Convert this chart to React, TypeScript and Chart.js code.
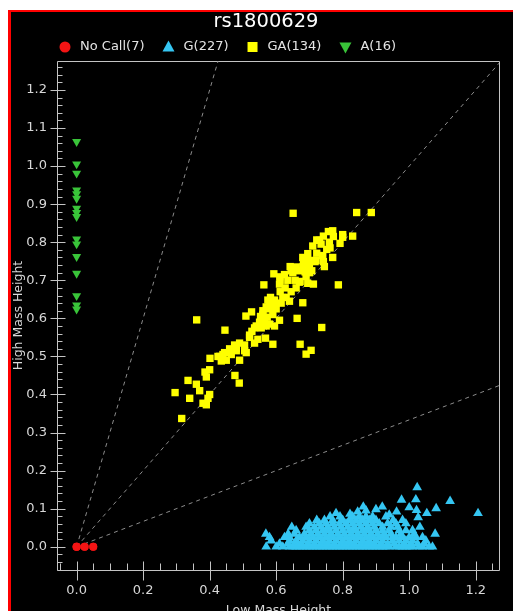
import React, { useEffect, useRef } from 'react';
import { Chart, registerables } from 'chart.js';
Chart.register(...registerables);

const titleText = 'rs1800629';
const xAxisTitle = 'Low Mass Height';
const yAxisTitle = 'High Mass Height';
const seriesNames = ['No Call(7)', 'G(227)', 'GA(134)', 'A(16)'];
const seriesColors = ['#f41414', '#35c6f2', '#ffff00', '#39c439'];

const xRange = [-0.056, 1.27];
const yRange = [-0.061, 1.276];
const xTickValues = [0, 0.2, 0.4, 0.6, 0.8, 1.0, 1.2];
const xTickLabels = ['0.0', '0.2', '0.4', '0.6', '0.8', '1.0', '1.2'];
const yTickValues = [0, 0.1, 0.2, 0.3, 0.4, 0.5, 0.6, 0.7, 0.8, 0.9, 1.0, 1.1, 1.2];
const yTickLabels = ['0.0', '0.1', '0.2', '0.3', '0.4', '0.5', '0.6', '0.7', '0.8', '0.9', '1.0', '1.1', '1.2'];
const xMinorStep = 0.05;
const yMinorStep = 0.02;
const guideSlopes = [3, 1, 1 / 3];

const noCallPoints: [number, number][] = [
  [0, 0], [0, 0], [0, 0], [0.024, 0], [0.024, 0], [0.05, 0], [0.05, 0],
];

const aPoints: [number, number][] = [
  [0, 1.064], [0, 1.005], [0, 0.981], [0, 0.937], [0, 0.927], [0, 0.915],
  [0, 0.889], [0, 0.878], [0, 0.867], [0, 0.808], [0, 0.795], [0, 0.762],
  [0, 0.718], [0, 0.659], [0, 0.635], [0, 0.624],
];

const gPoints: [number, number][] = [
  // y ~ 0.000
  [0.57, 0], [0.6, 0], [0.62, 0], [0.64, 0], [0.65, 0], [0.66, 0], [0.67, 0], [0.68, 0], [0.69, 0], [0.7, 0],
  [0.71, 0], [0.72, 0], [0.73, 0], [0.74, 0], [0.75, 0], [0.76, 0], [0.77, 0], [0.78, 0], [0.79, 0], [0.8, 0],
  [0.81, 0], [0.82, 0], [0.83, 0], [0.84, 0], [0.85, 0], [0.86, 0], [0.87, 0], [0.88, 0], [0.89, 0], [0.9, 0],
  [0.91, 0], [0.92, 0], [0.93, 0], [0.94, 0], [0.96, 0], [0.97, 0], [0.98, 0], [0.99, 0], [1.0, 0], [1.01, 0],
  [1.03, 0], [1.04, 0], [1.06, 0], [1.07, 0],
  // y ~ 0.008
  [0.61, 0.008], [0.635, 0.008], [0.655, 0.008], [0.665, 0.008], [0.675, 0.008], [0.695, 0.008], [0.715, 0.008],
  [0.735, 0.008], [0.745, 0.008], [0.755, 0.008], [0.775, 0.008], [0.795, 0.008], [0.805, 0.008], [0.815, 0.008],
  [0.825, 0.008], [0.835, 0.008], [0.855, 0.008], [0.865, 0.008], [0.875, 0.008], [0.885, 0.008], [0.895, 0.008],
  [0.915, 0.008], [0.935, 0.008], [0.955, 0.008], [0.985, 0.008], [1.005, 0.008], [1.025, 0.008], [1.045, 0.008],
  // y ~ 0.016
  [0.585, 0.016], [0.64, 0.016], [0.66, 0.016], [0.68, 0.016], [0.7, 0.016], [0.72, 0.016], [0.74, 0.016],
  [0.76, 0.016], [0.78, 0.016], [0.8, 0.016], [0.82, 0.016], [0.84, 0.016], [0.86, 0.016], [0.88, 0.016],
  [0.9, 0.016], [0.92, 0.016], [0.95, 0.016], [0.97, 0.016], [0.99, 0.016], [1.01, 0.016], [1.05, 0.016],
  // y ~ 0.025
  [0.58, 0.025], [0.625, 0.025], [0.64, 0.025], [0.67, 0.025], [0.69, 0.025], [0.71, 0.025], [0.73, 0.025],
  [0.75, 0.025], [0.76, 0.025], [0.77, 0.025], [0.79, 0.025], [0.81, 0.025], [0.83, 0.025], [0.84, 0.025],
  [0.85, 0.025], [0.87, 0.025], [0.88, 0.025], [0.89, 0.025], [0.91, 0.025], [0.92, 0.025], [0.93, 0.025],
  [0.95, 0.025], [0.96, 0.025], [0.98, 0.025], [1.0, 0.025], [1.02, 0.025], [1.04, 0.025],
  // y ~ 0.034
  [0.569, 0.034], [0.636, 0.034], [0.655, 0.034], [0.685, 0.034], [0.705, 0.034], [0.725, 0.034], [0.745, 0.034],
  [0.765, 0.034], [0.785, 0.034], [0.805, 0.034], [0.825, 0.034], [0.845, 0.034], [0.865, 0.034], [0.885, 0.034],
  [0.905, 0.034], [0.925, 0.034], [0.945, 0.034], [0.975, 0.034], [1.015, 0.034], [1.078, 0.034],
  // y ~ 0.043
  [0.66, 0.043], [0.7, 0.043], [0.72, 0.043], [0.74, 0.043], [0.75, 0.043], [0.76, 0.043], [0.78, 0.043],
  [0.8, 0.043], [0.82, 0.043], [0.83, 0.043], [0.84, 0.043], [0.86, 0.043], [0.87, 0.043], [0.88, 0.043],
  [0.9, 0.043], [0.92, 0.043], [0.94, 0.043], [0.97, 0.043], [0.99, 0.043], [1.01, 0.043],
  // y ~ 0.052
  [0.647, 0.052], [0.69, 0.052], [0.715, 0.052], [0.735, 0.052], [0.755, 0.052], [0.775, 0.052], [0.795, 0.052],
  [0.815, 0.052], [0.835, 0.052], [0.855, 0.052], [0.875, 0.052], [0.895, 0.052], [0.92, 0.052], [0.945, 0.052],
  [0.965, 0.052], [1.032, 0.052],
  // y ~ 0.061
  [0.7, 0.061], [0.73, 0.061], [0.75, 0.061], [0.77, 0.061], [0.79, 0.061], [0.81, 0.061], [0.83, 0.061],
  [0.85, 0.061], [0.87, 0.061], [0.89, 0.061], [0.91, 0.061], [0.935, 0.061], [0.96, 0.061], [0.99, 0.061],
  // y ~ 0.070
  [0.722, 0.07], [0.745, 0.07], [0.77, 0.07], [0.8, 0.07], [0.82, 0.07], [0.84, 0.07], [0.86, 0.07],
  [0.88, 0.07], [0.9, 0.07], [0.952, 0.07], [0.98, 0.07],
  // y ~ 0.079
  [0.762, 0.079], [0.792, 0.079], [0.83, 0.079], [0.85, 0.079], [0.87, 0.079], [0.89, 0.079], [0.93, 0.079], [1.027, 0.077],
  // upper outliers
  [0.822, 0.086], [0.845, 0.092], [0.87, 0.095], [0.94, 0.084], [0.962, 0.092], [1.053, 0.088], [1.207, 0.088],
  [0.862, 0.105], [0.919, 0.105], [0.9, 0.098], [1.0, 0.103], [1.022, 0.096], [1.081, 0.101], [0.977, 0.123],
  [1.02, 0.124], [1.123, 0.12], [1.024, 0.156], [0.78, 0.088],
];

const gaPoints: [number, number][] = [
  [0.651, 0.876], [0.842, 0.878], [0.886, 0.878], [0.757, 0.828], [0.722, 0.806], [0.742, 0.816], [0.772, 0.815],
  [0.8, 0.813], [0.83, 0.816], [0.792, 0.797], [0.752, 0.781], [0.762, 0.785], [0.722, 0.771], [0.77, 0.76],
  [0.742, 0.749], [0.745, 0.736], [0.682, 0.749], [0.7, 0.752], [0.717, 0.749], [0.642, 0.736], [0.667, 0.725],
  [0.687, 0.722], [0.707, 0.725], [0.657, 0.7], [0.672, 0.697], [0.695, 0.692], [0.712, 0.69], [0.593, 0.717],
  [0.563, 0.688], [0.61, 0.69], [0.627, 0.68], [0.612, 0.67], [0.787, 0.688], [0.583, 0.655], [0.575, 0.648],
  [0.595, 0.648], [0.62, 0.655], [0.68, 0.641], [0.526, 0.617], [0.509, 0.606], [0.56, 0.62], [0.553, 0.605],
  [0.573, 0.603], [0.59, 0.61], [0.61, 0.595], [0.595, 0.58], [0.58, 0.585], [0.565, 0.595], [0.663, 0.6],
  [0.737, 0.576], [0.361, 0.596], [0.54, 0.58], [0.527, 0.566], [0.52, 0.556], [0.446, 0.569], [0.545, 0.545],
  [0.568, 0.548], [0.59, 0.532], [0.672, 0.532], [0.705, 0.516], [0.69, 0.506], [0.49, 0.535], [0.475, 0.53],
  [0.48, 0.515], [0.505, 0.515], [0.46, 0.52], [0.445, 0.51], [0.43, 0.5], [0.45, 0.49], [0.435, 0.488],
  [0.425, 0.5], [0.401, 0.495], [0.49, 0.49], [0.476, 0.45], [0.489, 0.43], [0.386, 0.459], [0.39, 0.446],
  [0.4, 0.465], [0.335, 0.437], [0.36, 0.427], [0.37, 0.41], [0.34, 0.39], [0.38, 0.377], [0.39, 0.373],
  [0.395, 0.39], [0.4, 0.4], [0.296, 0.405], [0.316, 0.337],
  [0.611, 0.709], [0.625, 0.715], [0.612, 0.7], [0.635, 0.7], [0.65, 0.72], [0.68, 0.735], [0.7, 0.738],
  [0.72, 0.752], [0.74, 0.765], [0.71, 0.79], [0.735, 0.795], [0.76, 0.8], [0.77, 0.83], [0.8, 0.82],
  [0.57, 0.63], [0.58, 0.64], [0.595, 0.635], [0.56, 0.61], [0.55, 0.59], [0.535, 0.575], [0.52, 0.55],
  [0.505, 0.53], [0.58, 0.625], [0.6, 0.625], [0.615, 0.64], [0.63, 0.655], [0.645, 0.67], [0.66, 0.68],
  [0.67, 0.695], [0.69, 0.71], [0.7, 0.72], [0.64, 0.645], [0.555, 0.575], [0.57, 0.58], [0.535, 0.535],
  [0.48, 0.52], [0.465, 0.505], [0.44, 0.505], [0.51, 0.51], [0.73, 0.805], [0.68, 0.76], [0.695, 0.77],
  [0.66, 0.735], [0.645, 0.725],
];

const axisColor = '#c4c4c4';
const labelColor = '#d8d8d8';
const FONT = '"DejaVu Sans", Verdana, sans-serif';

const toXY = (pts: [number, number][]) => pts.map(([x, y]) => ({ x, y }));

function drawMarker(ctx: CanvasRenderingContext2D, style: string, cx: number, cy: number, color: string) {
  ctx.fillStyle = color;
  ctx.beginPath();
  if (style === 'circle') {
    ctx.arc(cx, cy, 5.5, 0, Math.PI * 2);
  } else if (style === 'rect') {
    ctx.rect(cx - 5, cy - 5, 10, 10);
  } else if (style === 'up') {
    ctx.moveTo(cx, cy - 6.5);
    ctx.lineTo(cx + 6, cy + 4.5);
    ctx.lineTo(cx - 6, cy + 4.5);
    ctx.closePath();
  } else {
    ctx.moveTo(cx, cy + 6.5);
    ctx.lineTo(cx + 6, cy - 4.5);
    ctx.lineTo(cx - 6, cy - 4.5);
    ctx.closePath();
  }
  ctx.fill();
}

const legendStyles = ['circle', 'up', 'rect', 'down'];

const framePlugin = {
  id: 'frameTicks',
  beforeDatasetsDraw(chart: any) {
    const { ctx, chartArea: a, scales } = chart;
    const xs = scales.x;
    const ys = scales.y;
    ctx.save();
    ctx.strokeStyle = axisColor;
    ctx.lineWidth = 1;
    const L = Math.round(a.left) - 0.5;
    const R = Math.round(a.right) + 0.5;
    const T = Math.round(a.top) + 0.5;
    const B = Math.round(a.bottom) + 0.5;
    ctx.beginPath();
    ctx.rect(L, T, R - L, B - T);
    ctx.stroke();
    ctx.beginPath();
    const kyMin = Math.ceil(yRange[0] / yMinorStep - 1e-9);
    const kyMax = Math.floor(yRange[1] / yMinorStep + 1e-9);
    for (let k = kyMin; k <= kyMax; k++) {
      const py = Math.round(ys.getPixelForValue(k * yMinorStep)) + 0.5;
      if (k % 5 === 0) {
        ctx.moveTo(L - 7, py);
        ctx.lineTo(L + 8, py);
      } else {
        ctx.moveTo(L, py);
        ctx.lineTo(L + 5, py);
      }
    }
    const kxMin = Math.ceil(xRange[0] / xMinorStep - 1e-9);
    const kxMax = Math.floor(xRange[1] / xMinorStep + 1e-9);
    for (let k = kxMin; k <= kxMax; k++) {
      const px = Math.round(xs.getPixelForValue(k * xMinorStep)) + 0.5;
      if (k % 4 === 0) {
        ctx.moveTo(px, B + 10);
        ctx.lineTo(px, B - 9);
      } else {
        ctx.moveTo(px, B);
        ctx.lineTo(px, B - 7);
      }
    }
    ctx.stroke();
    ctx.restore();
  },
  afterDraw(chart: any) {
    const { ctx, chartArea: a } = chart;
    ctx.save();
    ctx.font = `13px ${FONT}`;
    ctx.textBaseline = 'middle';
    ctx.textAlign = 'left';
    let cx = a.left + 7;
    const cy = 35;
    seriesNames.forEach((name, i) => {
      drawMarker(ctx, legendStyles[i], cx, cy, seriesColors[i]);
      const tx = cx + 15;
      ctx.fillStyle = '#e4e4e4';
      ctx.fillText(name, tx, cy);
      cx = tx + ctx.measureText(name).width + 24;
    });
    ctx.restore();
  },
};

export default function App() {
  const ref = useRef<HTMLCanvasElement | null>(null);
  useEffect(() => {
    if (!ref.current) return;
    Chart.defaults.font.family = FONT;
    const guideSets = guideSlopes.map((s) => ({
      label: 'guide',
      data: [{ x: 0, y: 0 }, { x: 2, y: 2 * s }],
      showLine: true,
      pointRadius: 0,
      borderColor: '#8c8c8c',
      borderWidth: 1,
      borderDash: [4, 4],
      xAxisID: 'x',
      yAxisID: 'y',
      order: 10,
    }));
    const chart = new Chart(ref.current, {
      type: 'scatter',
      data: {
        datasets: [
          { label: seriesNames[0], data: toXY(noCallPoints), xAxisID: 'x', yAxisID: 'y', pointStyle: 'circle', pointRadius: 4, backgroundColor: seriesColors[0], borderWidth: 0, order: 1 },
          { label: seriesNames[1], data: toXY(gPoints), xAxisID: 'x', yAxisID: 'y', pointStyle: 'triangle', pointRadius: 5.6, backgroundColor: seriesColors[1], borderWidth: 0, order: 2 },
          { label: seriesNames[2], data: toXY(gaPoints), xAxisID: 'x', yAxisID: 'y', pointStyle: 'rect', pointRadius: 5.2, backgroundColor: seriesColors[2], borderWidth: 0, order: 3 },
          { label: seriesNames[3], data: toXY(aPoints), xAxisID: 'x', yAxisID: 'y', pointStyle: 'triangle', rotation: 180, pointRadius: 5.2, backgroundColor: seriesColors[3], borderWidth: 0, order: 4 },
          ...guideSets,
        ] as any,
      },
      options: {
        animation: false,
        responsive: false,
        events: [],
        layout: { padding: { left: 0, right: 0, top: 0, bottom: 0 } },
        plugins: {
          legend: { display: false },
          tooltip: { enabled: false },
          title: {
            display: true,
            text: titleText,
            color: '#ffffff',
            font: { family: FONT, size: 19.5, weight: 'normal', lineHeight: 1 },
            padding: { top: 0, bottom: 29.5 },
          },
        },
        scales: {
          x: {
            type: 'linear',
            position: 'bottom',
            min: xRange[0],
            max: xRange[1],
            grid: { display: false, drawTicks: false },
            border: { display: false },
            ticks: {
              color: labelColor,
              font: { family: FONT, size: 13 },
              padding: 13,
              autoSkip: false,
              maxRotation: 0,
              callback: (_v: any, i: number) => xTickLabels[i],
            },
            title: {
              display: true,
              text: xAxisTitle,
              color: labelColor,
              font: { family: FONT, size: 12.5 },
              padding: { top: 0, bottom: 14 },
            },
            afterBuildTicks: (s: any) => {
              s.ticks = xTickValues.map((v) => ({ value: v }));
            },
            afterFit: (s: any) => {
              s.height = 62;
            },
          },
          y: {
            type: 'linear',
            position: 'left',
            min: yRange[0],
            max: yRange[1],
            grid: { display: false, drawTicks: false },
            border: { display: false },
            ticks: {
              color: labelColor,
              font: { family: FONT, size: 13 },
              padding: 11,
              autoSkip: false,
              callback: (_v: any, i: number) => yTickLabels[i],
            },
            title: {
              display: true,
              text: yAxisTitle,
              color: labelColor,
              font: { family: FONT, size: 12.5 },
              padding: { top: 0, bottom: 0 },
            },
            afterBuildTicks: (s: any) => {
              s.ticks = yTickValues.map((v) => ({ value: v }));
            },
            afterFit: (s: any) => {
              s.width = 47;
            },
          },
          yRight: {
            type: 'linear',
            position: 'right',
            min: yRange[0],
            max: yRange[1],
            grid: { display: false, drawTicks: false },
            border: { display: false },
            ticks: { display: false },
            afterFit: (s: any) => {
              s.width = 22;
            },
          },
        },
      } as any,
      plugins: [framePlugin],
    });
    return () => chart.destroy();
  }, []);

  return (
    <div style={{ position: 'fixed', left: 0, top: 0, width: 513, height: 611, overflow: 'hidden', background: '#ffffff' }}>
      <div
        style={{
          position: 'absolute',
          left: 8,
          top: 10,
          width: 520,
          height: 640,
          borderLeft: '3px solid #ff0000',
          borderTop: '2px solid #ff0000',
          background: '#000000',
        }}
      >
        <canvas ref={ref} width={510} height={620} style={{ display: 'block' }} />
      </div>
    </div>
  );
}
